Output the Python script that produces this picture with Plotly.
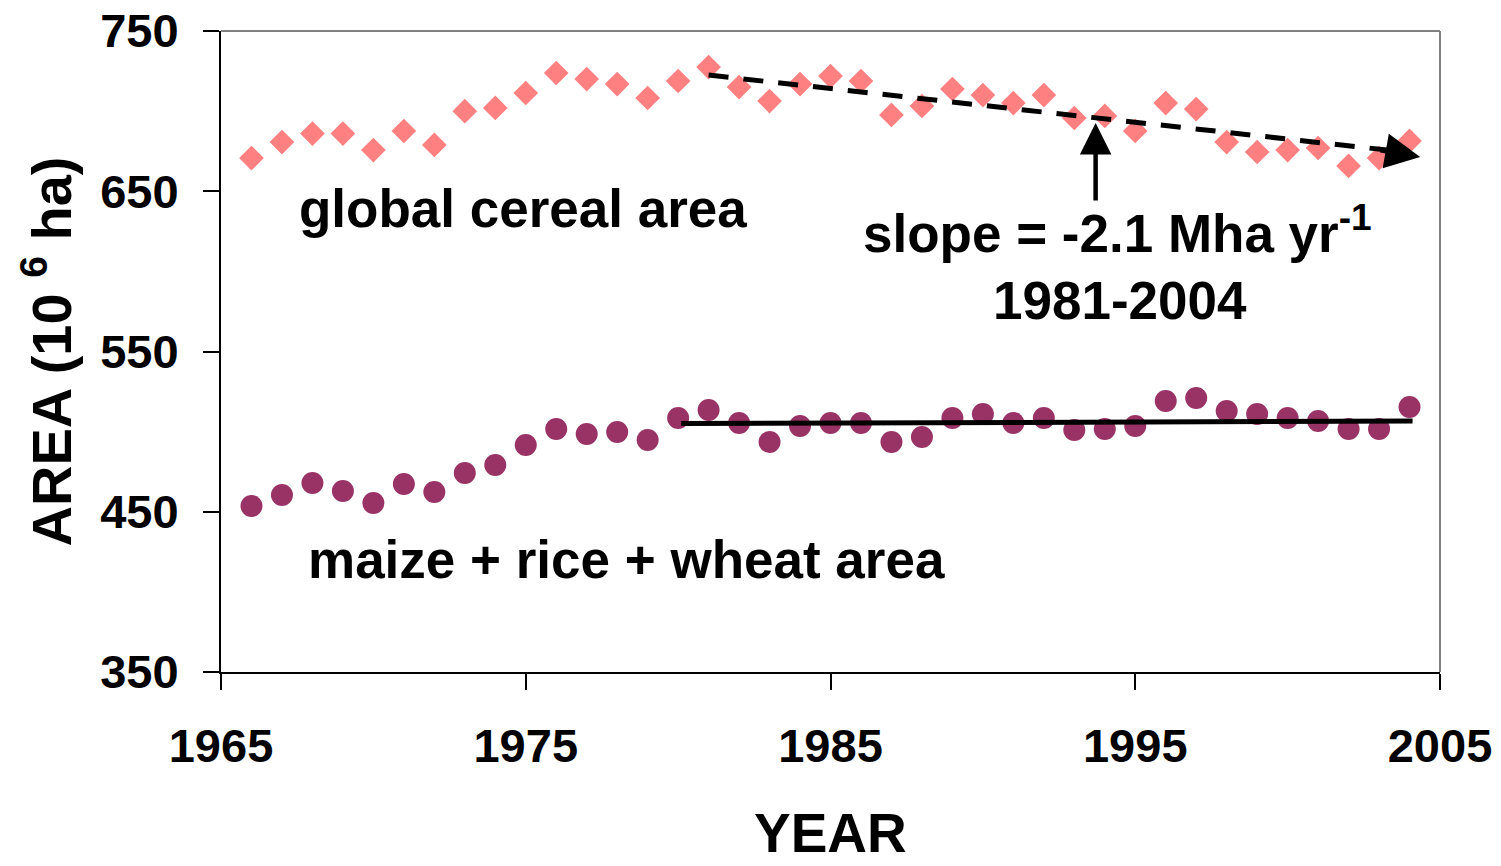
import plotly.graph_objects as go

years = list(range(1966, 2005))
global_cereal = [670.7, 680.7, 686, 686, 675.7, 687.6, 678.9, 700, 702, 711.3,
                 723.8, 720, 716.9, 708.2, 718.8, 727.5, 715, 706.3, 716.9, 721.9,
                 718.8, 697.6, 703.2, 713.8, 710, 705, 710, 695.7, 697, 687.6,
                 705, 701.3, 680.7, 674.5, 675.7, 677, 665.8, 670.7, 681.4]
mrw_area = [453.6, 460.5, 468, 463, 455.5, 467.3, 462.3, 474.2, 479.2, 491.7,
            501.6, 498.5, 499.8, 494.8, 508.5, 513.5, 505.4, 493.5, 503.5, 505.4,
            505.4, 493.5, 496.6, 508.5, 511, 505.4, 508.5, 501, 501.6, 503.5,
            519.1, 521, 512.9, 511, 508.5, 506.6, 501.6, 501.6, 515.4]

trend_cereal_x = [1981, 2003.5]
trend_cereal_y = [722.5, 675.2]
trend_mrw_x = [1980.1, 2004.1]
trend_mrw_y = [505.0, 506.6]

x_ticks = [1965, 1975, 1985, 1995, 2005]
y_ticks = [350, 450, 550, 650, 750]

FONT = "Liberation Sans, Arial, sans-serif"

# body margin is removed in the page, so the figure fills the window exactly
W, H = 1501, 866
ML, MR, MT, MB = 221, 61, 31, 194
PLOT_W = W - ML - MR

fig = go.Figure()
fig.add_trace(go.Scatter(x=years, y=global_cereal, mode="markers",
                         marker=dict(symbol="diamond", size=19, color="#FF8080"),
                         showlegend=False))
fig.add_trace(go.Scatter(x=years, y=mrw_area, mode="markers",
                         marker=dict(symbol="circle", size=22, color="#993366"),
                         showlegend=False))
fig.add_trace(go.Scatter(x=trend_cereal_x, y=trend_cereal_y, mode="lines",
                         line=dict(color="black", width=5, dash="20px,15px"),
                         showlegend=False))
fig.add_trace(go.Scatter(x=trend_mrw_x, y=trend_mrw_y, mode="lines",
                         line=dict(color="black", width=5),
                         showlegend=False))

ann_font = dict(family=FONT, size=53, color="black")
annotations = [
    dict(x=1974.9, y=639.5, text="<b>global cereal area</b>", showarrow=False,
         font=ann_font, xanchor="center", yanchor="middle"),
    dict(x=1978.3, y=419.9, text="<b>maize + rice + wheat area</b>", showarrow=False,
         font=ann_font, xanchor="center", yanchor="middle"),
    dict(x=1994.43, y=626.0, text="<b>slope = -2.1 Mha yr<sup>-1</sup></b>", showarrow=False,
         font=ann_font, xanchor="center", yanchor="middle"),
    dict(x=1994.5, y=582.1, text="<b>1981-2004</b>", showarrow=False,
         font=ann_font, xanchor="center", yanchor="middle"),
    # arrowhead at the end of the dashed trend line
    dict(x=2004.35, y=671.3, ax=2003.0, ay=675.9, xref="x", yref="y", axref="x", ayref="y",
         text="", showarrow=True, arrowhead=2, arrowsize=1.4, arrowwidth=5, arrowcolor="black"),
    # vertical arrow from slope text
    dict(x=1993.7, y=692.6, ax=1993.7, ay=643.3, xref="x", yref="y", axref="x", ayref="y",
         text="", showarrow=True, arrowhead=2, arrowsize=1.4, arrowwidth=4.5, arrowcolor="black"),
    # axis titles
    dict(x=0.5, y=0, xref="paper", yref="paper", yshift=-MB, text="<b>YEAR</b>",
         showarrow=False, font=dict(family=FONT, size=55, color="black"),
         xanchor="center", yanchor="bottom"),
    dict(x=(48 - ML) / PLOT_W, y=0.5, xref="paper", yref="paper",
         text="<b>AREA (10 <sup>6</sup> ha)</b>",
         showarrow=False, font=dict(family=FONT, size=56, color="black"),
         xanchor="center", yanchor="middle", textangle=-90),
]

fig.update_layout(
    width=W, height=H,
    margin=dict(l=ML, r=MR, t=MT, b=MB, autoexpand=False),
    paper_bgcolor="white", plot_bgcolor="white",
    font=dict(family=FONT, color="black"),
    annotations=annotations,
    shapes=[
        dict(type="line", xref="paper", yref="paper", x0=0, x1=1, y0=1, y1=1,
             line=dict(color="#808080", width=2)),
        dict(type="line", xref="paper", yref="paper", x0=1, x1=1, y0=0, y1=1,
             line=dict(color="#808080", width=2)),
    ],
)
fig.update_xaxes(
    range=[1965, 2005], tickvals=x_ticks, ticktext=[f"<b>{v}</b>" for v in x_ticks],
    showgrid=False, zeroline=False, showline=True, linecolor="black", linewidth=2,
    ticks="outside", ticklen=16, tickwidth=1.5, tickcolor="black", automargin=False,
    tickfont=dict(family=FONT, size=47, color="black"), ticklabelstandoff=16,
    ticklabeloverflow="allow",
)
fig.update_yaxes(
    range=[350, 750], tickvals=y_ticks, ticktext=[f"<b>{v}</b>" for v in y_ticks],
    showgrid=False, zeroline=False, showline=True, linecolor="black", linewidth=2,
    ticks="outside", ticklen=16, tickwidth=1.5, tickcolor="black", automargin=False,
    tickfont=dict(family=FONT, size=47, color="black"), ticklabelstandoff=15,
    ticklabeloverflow="allow",
)

fig.write_html("out.html", config={"displayModeBar": False},
               post_script="document.body.style.margin='0';document.body.style.overflow='hidden';")
